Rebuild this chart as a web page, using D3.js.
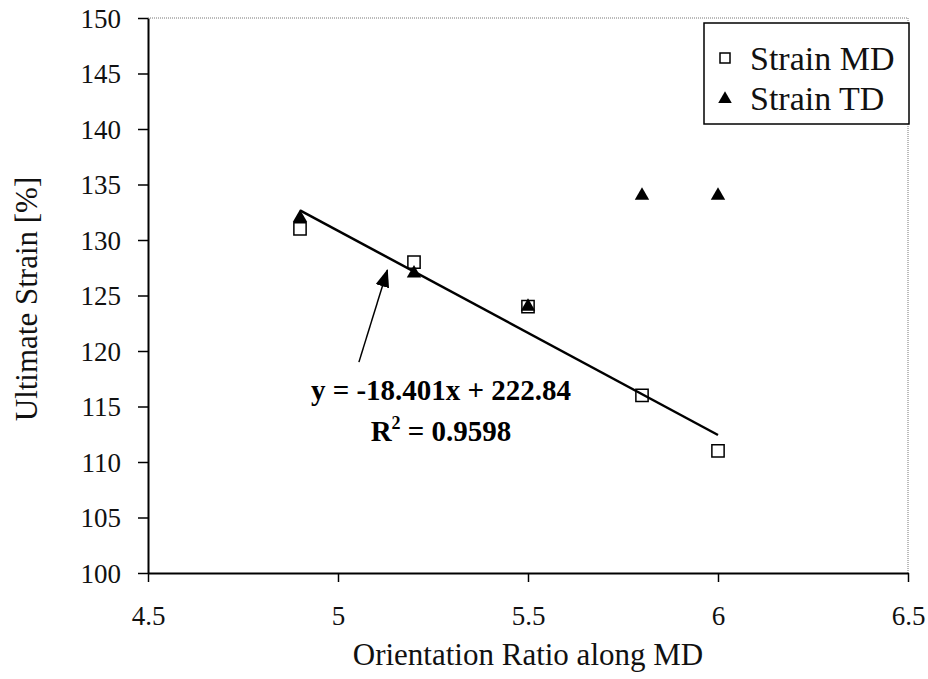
<html>
  <head>
    <meta charset="utf-8">
    <style>
body { margin: 0; background: #fff; }
    </style>
  </head>
  <body>
    <svg width="928" height="679"></svg>
    <script src="https://d3js.org/d3.v7.min.js"></script>
    <script>

var ratios = [4.9, 5.2, 5.5, 5.8, 6.0];
var strainMD = [131, 128, 124, 116, 111];
var strainTD = [132, 127, 124, 134, 134];
var xTicks = [4.5, 5, 5.5, 6, 6.5];
var yTicks = [100, 105, 110, 115, 120, 125, 130, 135, 140, 145, 150];
var fit = {slope: -18.401, intercept: 222.84, r2: 0.9598};

var serif = "Liberation Serif";

var svg = d3.select("svg"),
    margin = {top: 18, right: 20, bottom: 106, left: 148},
    width = 908 - margin.left,
    height = 573 - margin.top;

var x = d3.scaleLinear().domain([4.5, 6.5]).range([0, width]),
    y = d3.scaleLinear().domain([100, 150]).range([height, 0]);

var g = svg.append("g")
  .attr("transform", "translate(" + margin.left + "," + margin.top + ")");

// dotted frame on top and right
g.append("path")
  .attr("d", "M0,0H" + width + "V" + height)
  .attr("fill", "none")
  .attr("stroke", "#777")
  .attr("stroke-width", 1)
  .attr("stroke-dasharray", "1,1");

var yAxis = g.append("g")
  .call(d3.axisLeft(y).tickValues(yTicks).tickSize(10).tickPadding(17).tickSizeOuter(0))
  .attr("font-family", serif)
  .attr("font-size", 27);
yAxis.select(".domain").attr("stroke", "#000").attr("stroke-width", 2);
yAxis.selectAll(".tick line").attr("stroke", "#000").attr("stroke-width", 1.5);
yAxis.selectAll("text").attr("fill", "#111").attr("dy", "0.34em");

var xAxis = g.append("g")
  .attr("transform", "translate(0," + height + ")")
  .call(d3.axisBottom(x).tickValues(xTicks).tickSize(9).tickPadding(24).tickSizeOuter(0)
    .tickFormat(d3.format("")))
  .attr("font-family", serif)
  .attr("font-size", 27);
xAxis.select(".domain").attr("stroke", "#000").attr("stroke-width", 2);
xAxis.selectAll(".tick line").attr("stroke", "#000").attr("stroke-width", 1.5);
xAxis.selectAll("text").attr("fill", "#111");

// markers
var sq = d3.symbol().type(d3.symbolSquare).size(150);
var tri = d3.symbol().type(d3.symbolTriangle).size(90);

g.selectAll(".md")
  .data(ratios)
  .enter().append("path")
  .attr("class", "md")
  .attr("d", sq)
  .attr("transform", function(d, i) { return "translate(" + x(d) + "," + y(strainMD[i]) + ")"; })
  .attr("fill", "#fff")
  .attr("stroke", "#000")
  .attr("stroke-width", 1.5);

g.selectAll(".td")
  .data(ratios)
  .enter().append("path")
  .attr("class", "td")
  .attr("d", tri)
  .attr("transform", function(d, i) { return "translate(" + x(d) + "," + y(strainTD[i]) + ")"; })
  .attr("fill", "#000");

// trend line over the MD range
var x0 = d3.min(ratios), x1 = d3.max(ratios);
g.append("line")
  .attr("x1", x(x0)).attr("y1", y(fit.slope * x0 + fit.intercept))
  .attr("x2", x(x1)).attr("y2", y(fit.slope * x1 + fit.intercept))
  .attr("stroke", "#000")
  .attr("stroke-width", 2.5);

// arrow pointing at the line
svg.append("defs").append("marker")
  .attr("id", "head")
  .attr("viewBox", "0 0 18 14")
  .attr("refX", 17).attr("refY", 7)
  .attr("markerWidth", 18).attr("markerHeight", 14)
  .attr("markerUnits", "userSpaceOnUse")
  .attr("orient", "auto")
  .append("path").attr("d", "M0,0L18,7L0,14z").attr("fill", "#000");

var arrow = {from: [5.055, 119.0], to: [5.13, 127.3]};
g.append("line")
  .attr("x1", x(arrow.from[0])).attr("y1", y(arrow.from[1]))
  .attr("x2", x(arrow.to[0])).attr("y2", y(arrow.to[1]))
  .attr("stroke", "#000")
  .attr("stroke-width", 1.5)
  .attr("marker-end", "url(#head)");

// equation text
svg.append("text")
  .attr("x", 441).attr("y", 400)
  .attr("text-anchor", "middle")
  .attr("font-family", serif)
  .attr("font-size", 29).attr("font-weight", "bold")
  .text("y = -" + Math.abs(fit.slope) + "x + " + fit.intercept);
var r2 = svg.append("text")
  .attr("x", 441).attr("y", 441)
  .attr("text-anchor", "middle")
  .attr("font-family", serif)
  .attr("font-size", 29).attr("font-weight", "bold");
r2.append("tspan").text("R");
r2.append("tspan").attr("dy", -12).attr("font-size", 18).text("2");
r2.append("tspan").attr("dy", 12).text(" = " + fit.r2);

// legend
var legend = svg.append("g").attr("transform", "translate(704,23)");
legend.append("rect")
  .attr("width", 205).attr("height", 101)
  .attr("fill", "#fff").attr("stroke", "#000").attr("stroke-width", 1.5);
legend.append("path").attr("d", d3.symbol().type(d3.symbolSquare).size(100))
  .attr("transform", "translate(21,35)")
  .attr("fill", "#fff").attr("stroke", "#000").attr("stroke-width", 1.5);
legend.append("path").attr("d", d3.symbol().type(d3.symbolTriangle).size(80))
  .attr("transform", "translate(21,76)").attr("fill", "#000");
legend.selectAll(".lbl")
  .data(["Strain MD", "Strain TD"])
  .enter().append("text")
  .attr("x", 46)
  .attr("y", function(d, i) { return 47 + i * 40; })
  .attr("font-family", serif)
  .attr("font-size", 34)
  .attr("fill", "#111")
  .text(function(d) { return d; });

// axis titles
svg.append("text")
  .attr("x", margin.left + width / 2).attr("y", 665)
  .attr("text-anchor", "middle")
  .attr("font-family", serif)
  .attr("font-size", 31).attr("fill", "#111")
  .text("Orientation Ratio along MD");

svg.append("text")
  .attr("transform", "translate(37,299) rotate(-90)")
  .attr("text-anchor", "middle")
  .attr("font-family", serif)
  .attr("font-size", 31).attr("fill", "#111")
  .text("Ultimate Strain [%]");

    </script>
  </body>
</html>
